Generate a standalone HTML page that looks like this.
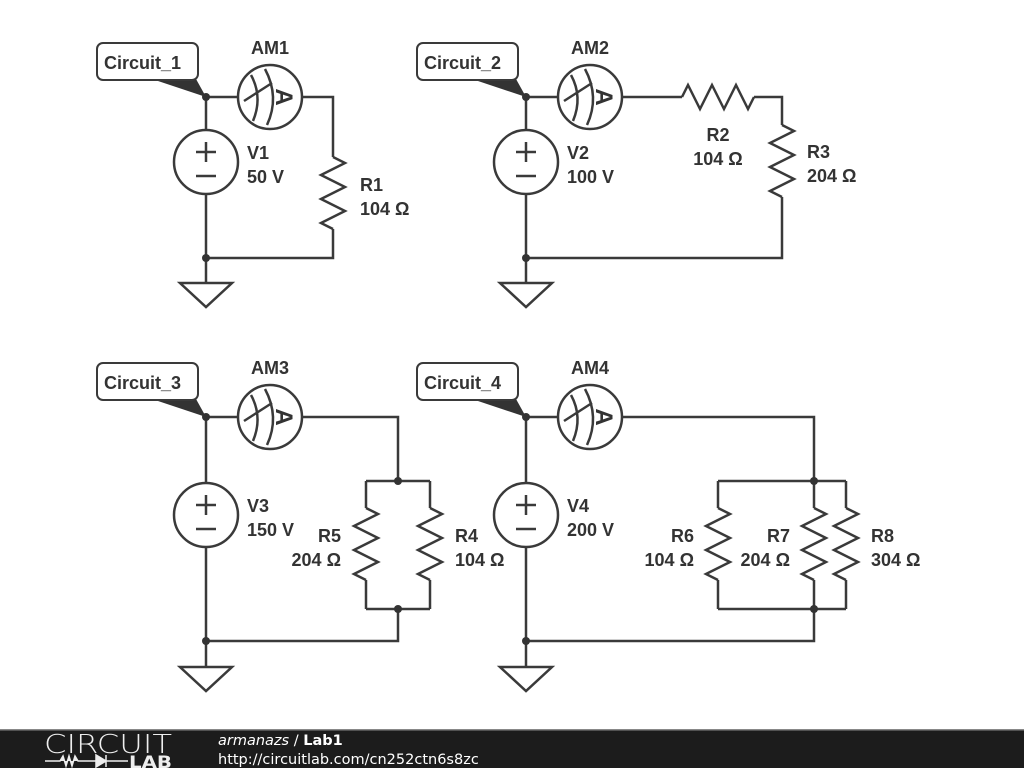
<!DOCTYPE html>
<html><head><meta charset="utf-8"><style>
html,body{margin:0;padding:0;background:#fff;width:1024px;height:768px;overflow:hidden}
svg{display:block}
.w{stroke:#3a3a3a;stroke-width:2.5;fill:none}
.t{font-family:"Liberation Sans",Arial,sans-serif;font-weight:bold;font-size:18px;fill:#333}
</style></head><body>
<svg width="1024" height="768" viewBox="0 0 1024 768" xmlns="http://www.w3.org/2000/svg" font-family="Liberation Sans, Arial, sans-serif">
<defs>
<g id="am">
<circle r="32" fill="#fff" stroke="#3a3a3a" stroke-width="2.5"/>
<path d="M-19,-22 Q-7,0 -17,24" class="w" stroke-width="1.5"/>
<path d="M-5,-28 Q10,0 -3,28" class="w" stroke-width="1.5"/>
<path d="M-26,4 L2,-14" class="w" stroke-width="1.5"/>
<text transform="translate(6,0) rotate(90)" text-anchor="middle" x="0" y="0" font-family="Liberation Sans, Arial, sans-serif" font-weight="bold" font-size="24" fill="#333">A</text>
</g>
<g id="vs">
<circle r="32" fill="#fff" stroke="#3a3a3a" stroke-width="2.5"/>
<path d="M-10,-10 H10 M0,-20 V0 M-10,14 H10" class="w" stroke-width="2"/>
</g>
<g id="gnd">
<path d="M-26,0 H26 L0,24 Z" class="w" fill="#fff"/>
</g>
<path id="rv" class="w" d="M0,0 L12,6 L-12,18 L12,30 L-12,42 L12,54 L-12,66 L0,72"/>
<path id="rh" class="w" d="M0,0 L6,-12 L18,12 L30,-12 L42,12 L54,-12 L66,12 L72,0"/>
</defs>

<!-- ===== Circuit 1 ===== -->
<path class="w" d="M206,97 H333 V157 M333,229 V258 H206 V97 M206,258 V283"/>
<use href="#rv" x="333" y="157"/>
<use href="#am" x="270" y="97"/>
<use href="#vs" x="206" y="162"/>
<use href="#gnd" x="206" y="283"/>
<circle cx="206" cy="97" r="4" fill="#333"/><circle cx="206" cy="258" r="4" fill="#333"/>
<polygon points="152,79 196,79 206,97" fill="#333"/>
<rect x="97" y="43" width="101" height="37" rx="6" fill="#fff" stroke="#3a3a3a" stroke-width="2"/>
<text class="t" x="104" y="69">Circuit_1</text>
<text class="t" x="270" y="54" text-anchor="middle">AM1</text>
<text class="t" x="247" y="159">V1</text><text class="t" x="247" y="183">50 V</text>
<text class="t" x="360" y="191">R1</text><text class="t" x="360" y="215">104 Ω</text>

<!-- ===== Circuit 2 ===== -->
<path class="w" d="M526,97 H682 M754,97 H782 V125 M782,197 V258 H526 V97 M526,258 V283"/>
<use href="#rh" x="682" y="97"/>
<use href="#rv" x="782" y="125"/>
<use href="#am" x="590" y="97"/>
<use href="#vs" x="526" y="162"/>
<use href="#gnd" x="526" y="283"/>
<circle cx="526" cy="97" r="4" fill="#333"/><circle cx="526" cy="258" r="4" fill="#333"/>
<polygon points="472,79 516,79 526,97" fill="#333"/>
<rect x="417" y="43" width="101" height="37" rx="6" fill="#fff" stroke="#3a3a3a" stroke-width="2"/>
<text class="t" x="424" y="69">Circuit_2</text>
<text class="t" x="590" y="54" text-anchor="middle">AM2</text>
<text class="t" x="567" y="159">V2</text><text class="t" x="567" y="183">100 V</text>
<text class="t" x="718" y="141" text-anchor="middle">R2</text><text class="t" x="718" y="165" text-anchor="middle">104 Ω</text>
<text class="t" x="807" y="158">R3</text><text class="t" x="807" y="182">204 Ω</text>

<!-- ===== Circuit 3 ===== -->
<path class="w" d="M206,417 H398 V481 M366,481 H430 M366,481 V508 M430,481 V508 M366,580 V609 M430,580 V609 M366,609 H430 M398,609 V641 H206 V417 M206,641 V667"/>
<use href="#rv" x="366" y="508"/>
<use href="#rv" x="430" y="508"/>
<use href="#am" x="270" y="417"/>
<use href="#vs" x="206" y="515"/>
<use href="#gnd" x="206" y="667"/>
<circle cx="206" cy="417" r="4" fill="#333"/><circle cx="206" cy="641" r="4" fill="#333"/>
<circle cx="398" cy="481" r="4" fill="#333"/><circle cx="398" cy="609" r="4" fill="#333"/>
<polygon points="152,399 196,399 206,417" fill="#333"/>
<rect x="97" y="363" width="101" height="37" rx="6" fill="#fff" stroke="#3a3a3a" stroke-width="2"/>
<text class="t" x="104" y="389">Circuit_3</text>
<text class="t" x="270" y="374" text-anchor="middle">AM3</text>
<text class="t" x="247" y="512">V3</text><text class="t" x="247" y="536">150 V</text>
<text class="t" x="341" y="542" text-anchor="end">R5</text><text class="t" x="341" y="566" text-anchor="end">204 Ω</text>
<text class="t" x="455" y="542">R4</text><text class="t" x="455" y="566">104 Ω</text>

<!-- ===== Circuit 4 ===== -->
<path class="w" d="M526,417 H814 V481 M718,481 H846 M718,481 V508 M814,481 V508 M846,481 V508 M718,580 V609 M814,580 V609 M846,580 V609 M718,609 H846 M814,609 V641 H526 V417 M526,641 V667"/>
<use href="#rv" x="718" y="508"/>
<use href="#rv" x="814" y="508"/>
<use href="#rv" x="846" y="508"/>
<use href="#am" x="590" y="417"/>
<use href="#vs" x="526" y="515"/>
<use href="#gnd" x="526" y="667"/>
<circle cx="526" cy="417" r="4" fill="#333"/><circle cx="526" cy="641" r="4" fill="#333"/>
<circle cx="814" cy="481" r="4" fill="#333"/><circle cx="814" cy="609" r="4" fill="#333"/>
<polygon points="472,399 516,399 526,417" fill="#333"/>
<rect x="417" y="363" width="101" height="37" rx="6" fill="#fff" stroke="#3a3a3a" stroke-width="2"/>
<text class="t" x="424" y="389">Circuit_4</text>
<text class="t" x="590" y="374" text-anchor="middle">AM4</text>
<text class="t" x="567" y="512">V4</text><text class="t" x="567" y="536">200 V</text>
<text class="t" x="694" y="542" text-anchor="end">R6</text><text class="t" x="694" y="566" text-anchor="end">104 Ω</text>
<text class="t" x="790" y="542" text-anchor="end">R7</text><text class="t" x="790" y="566" text-anchor="end">204 Ω</text>
<text class="t" x="871" y="542">R8</text><text class="t" x="871" y="566">304 Ω</text>

<!-- ===== Footer ===== -->
<rect x="0" y="729" width="1024" height="39" fill="#1c1c1c"/>
<rect x="0" y="729" width="1024" height="1.5" fill="#888"/>
<text x="44" y="753" textLength="128" lengthAdjust="spacingAndGlyphs" font-family="DejaVu Sans, sans-serif" font-size="26" font-weight="200" fill="#eee">CIRCUIT</text>
<path d="M45,761 H60 L63,756 L66,766 L69,756 L72,766 L75,756 L78,761 H96 M96,755 V767 L106,761 Z M106,755 V767 M106,761 H128" stroke="#eee" stroke-width="1.5" fill="#eee"/>
<text x="129" y="768" textLength="43" lengthAdjust="spacingAndGlyphs" font-family="DejaVu Sans, sans-serif" font-size="17" font-weight="bold" fill="#eee">LAB</text>
<text x="218" y="745" font-family="DejaVu Sans, sans-serif" font-size="14.5" fill="#fff"><tspan font-style="italic">armanazs</tspan> / <tspan font-weight="bold">Lab1</tspan></text>
<text x="218" y="764" font-family="DejaVu Sans, sans-serif" font-size="14.5" fill="#fff">http://circuitlab.com/cn252ctn6s8zc</text>
</svg>
</body></html>
